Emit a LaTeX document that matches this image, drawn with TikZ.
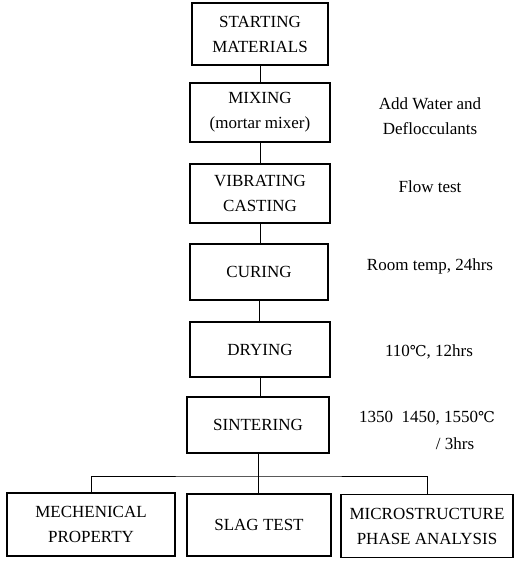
\documentclass[tikz,border=0pt]{standalone}
\usepackage{fontspec}
\setmainfont{Liberation Serif}
\newfontfamily\degfont{DejaVu Serif}
\newcommand{\celsius}{{\degfont\fontsize{15}{15}\selectfont ℃}}
\begin{document}
\begin{tikzpicture}[x=1pt,y=-1pt,
  every node/.style={font=\fontsize{17}{25}\selectfont, align=center, inner sep=0pt},
  procbox/.style={draw, line width=1.5pt, minimum width=#1},
  note/.style={},
  conn/.style={line width=0.8pt}]
\useasboundingbox (0,0) rectangle (515,562);
\node[procbox=136pt, minimum height=62pt] (b1) at (260,34) {STARTING\\MATERIALS};
\node[procbox=140pt, minimum height=59pt] (b2) at (260,112.5) {MIXING\\(mortar mixer)};
\node[procbox=140pt, minimum height=59pt] (b3) at (260,193.5) {VIBRATING\\CASTING};
\node[procbox=138pt, minimum height=56pt] (b4) at (259,272) {CURING};
\node[procbox=140pt, minimum height=55pt] (b5) at (260,349.5) {DRYING};
\node[procbox=142pt, minimum height=56pt] (b6) at (258,425) {SINTERING};
\node[procbox=168pt, minimum height=63pt] (bA) at (91,524.5) {MECHENICAL\\PROPERTY};
\node[procbox=144pt, minimum height=62pt] (bB) at (259,525) {SLAG TEST};
\node[procbox=172pt, minimum height=63pt] (bC) at (427,526) {MICROSTRUCTURE\\PHASE ANALYSIS};

\node[note] (n1) at (430,116.5) {Add Water and\\Deflocculants};
\node[note] (n2) at (430,187) {Flow test};
\node[note] (n3) at (430,266) {Room temp, 24hrs};
\node[note] (n4) at (429,352) {110\celsius, 12hrs};
\node[note] (n5) at (427,418) {1350\ \ 1450, 1550\celsius};
\node[note] (n6) at (455,444) {/ 3hrs};

\coordinate (j) at (258,476);
\draw[conn] (b1.south) -- (b1.south |- b2.north);
\draw[conn] (b2.south) -- (b2.south |- b3.north);
\draw[conn] (b3.south) -- (b3.south |- b4.north);
\draw[conn] (b4.south) -- (b4.south |- b5.north);
\draw[conn] (b5.south) -- (b5.south |- b6.north);
\draw[conn] (b6.south) -- (b6.south |- bB.north);
\draw[conn] (bA.north) |- (j) -| (bC.north);
\end{tikzpicture}
\end{document}
